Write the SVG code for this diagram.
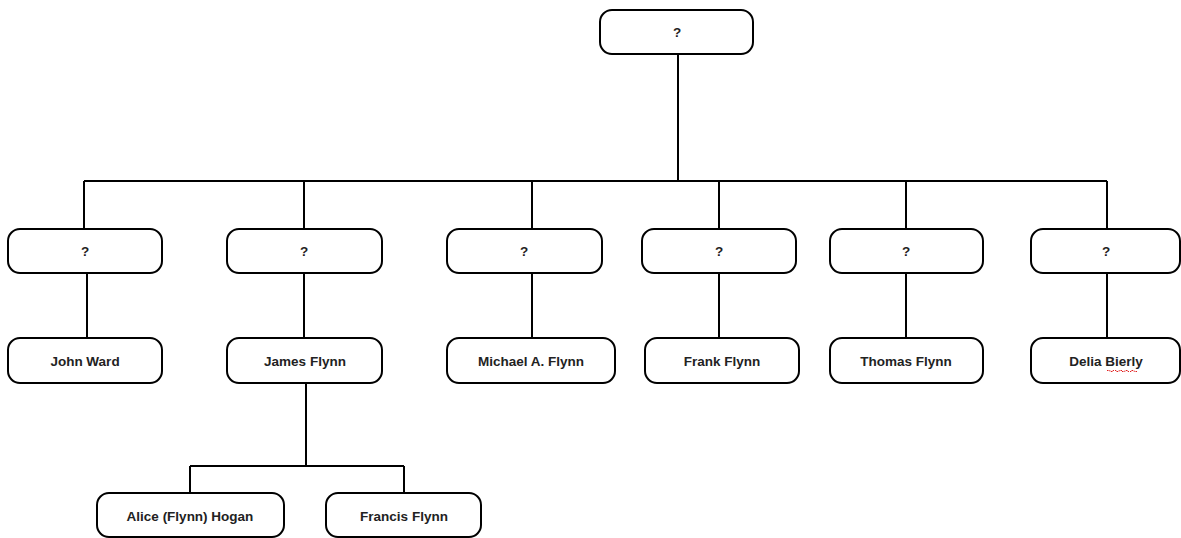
<svg xmlns="http://www.w3.org/2000/svg" width="1181" height="538" viewBox="0 0 1181 538">
<style>
.n{fill:#fff;stroke:#000;stroke-width:2}
.t{font-family:"Liberation Sans",Arial,sans-serif;font-size:13.5px;font-weight:bold;fill:#222;text-anchor:middle;dominant-baseline:central}
.c{fill:none;stroke:#000;stroke-width:2}
</style>
<rect width="1181" height="538" fill="#fff"/>
<g id="connectors">
<path class="c" d="M678 54V181M84 181H1107M84 181V229M304 181V229M532 181V229M719 181V229M906 181V229M1107 181V229"/>
<path class="c" d="M87 273V338M304 273V338M532 273V338M719 273V338M906 273V338M1107 273V338"/>
<path class="c" d="M306 383V466M190 466H404M190 466V493M404 466V493"/>
</g>
<g id="root"><rect class="n" x="600" y="10" width="153" height="44" rx="12"/><text class="t" x="677" y="32">?</text></g>
<g id="p1"><rect class="n" x="8" y="229" width="154" height="44" rx="12"/><text class="t" x="85" y="251">?</text></g>
<g id="p2"><rect class="n" x="227" y="229" width="155" height="44" rx="12"/><text class="t" x="304" y="251">?</text></g>
<g id="p3"><rect class="n" x="447" y="229" width="155" height="44" rx="12"/><text class="t" x="524" y="251">?</text></g>
<g id="p4"><rect class="n" x="642" y="229" width="154" height="44" rx="12"/><text class="t" x="719" y="251">?</text></g>
<g id="p5"><rect class="n" x="830" y="229" width="153" height="44" rx="12"/><text class="t" x="906" y="251">?</text></g>
<g id="p6"><rect class="n" x="1031" y="229" width="149" height="44" rx="12"/><text class="t" x="1106" y="251">?</text></g>
<g id="john"><rect class="n" x="8" y="338" width="154" height="45" rx="12"/><text class="t" x="85" y="361">John Ward</text></g>
<g id="james"><rect class="n" x="227" y="338" width="155" height="45" rx="12"/><text class="t" x="305" y="361">James Flynn</text></g>
<g id="michael"><rect class="n" x="447" y="338" width="168" height="45" rx="12"/><text class="t" x="531" y="361">Michael A. Flynn</text></g>
<g id="frank"><rect class="n" x="645" y="338" width="154" height="45" rx="12"/><text class="t" x="722" y="361">Frank Flynn</text></g>
<g id="thomas"><rect class="n" x="830" y="338" width="153" height="45" rx="12"/><text class="t" x="906" y="361">Thomas Flynn</text></g>
<g id="delia"><rect class="n" x="1031" y="338" width="149" height="45" rx="12"/><text class="t" x="1106" y="361">Delia Bierly</text><path d="M1107 370.5h3v1h3v-1h3v1h3v-1h3v1h3v-1h3v1h3v-1h3v1h3" fill="none" stroke="#e02020" stroke-width="1" stroke-dasharray="1.5 1"/></g>
<g id="alice"><rect class="n" x="97" y="493" width="187" height="44" rx="12"/><text class="t" x="190" y="516">Alice (Flynn) Hogan</text></g>
<g id="francis"><rect class="n" x="326" y="493" width="155" height="44" rx="12"/><text class="t" x="404" y="516">Francis Flynn</text></g>
</svg>
